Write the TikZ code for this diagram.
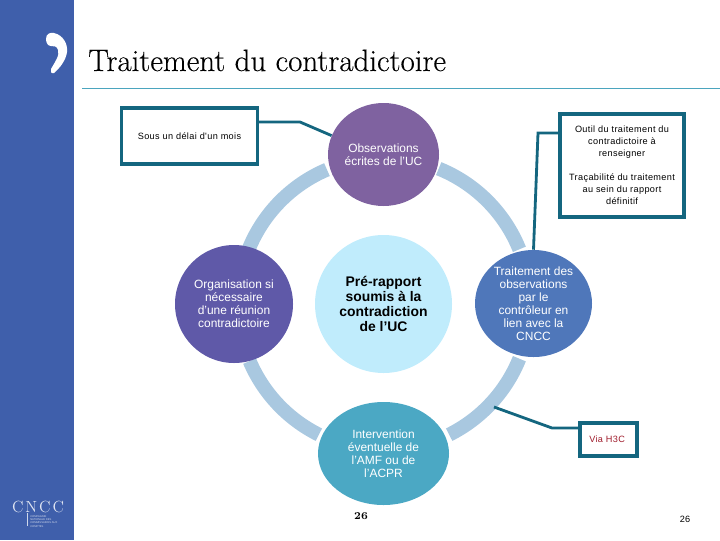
\documentclass[tikz,border=0pt]{standalone}
\usepackage{fontspec}
\setmainfont{Liberation Sans}
\newfontfamily\titlefont[FakeBold=0.25]{Latin Modern Roman}
\newfontfamily\logofont[LetterSpace=12]{Latin Modern Roman}
\newfontfamily\numfont{Latin Modern Roman}
\newfontfamily\spacedfont[LetterSpace=4]{Liberation Sans}
\usetikzlibrary{shapes.geometric, positioning, calc}
\definecolor{panelblue}{HTML}{3F5FAB}
\definecolor{rulecolor}{HTML}{4BA5BE}
\definecolor{ringblue}{HTML}{A9C8E0}
\definecolor{obscolor}{HTML}{7F62A0}
\definecolor{orgcolor}{HTML}{5F59A8}
\definecolor{precolor}{HTML}{C0ECFC}
\definecolor{trtcolor}{HTML}{4F77BA}
\definecolor{intcolor}{HTML}{4BA8C4}
\definecolor{boxline}{HTML}{14667F}
\definecolor{viared}{HTML}{A01C2C}
\newcommand{\px}{0.025cm}
\tikzset{
    stage/.style={ellipse, draw=none, inner sep=-12pt, align=center, text=white,
        font=\fontsize{8.5}{9.25}\selectfont},
    notebox/.style={rectangle, draw=boxline, line width=2.2pt, fill=white, inner sep=0pt, align=center,
        font=\spacedfont\fontsize{6.5}{8.6}\selectfont},
    notelink/.style={draw=boxline, line width=2pt},
    ringarc/.style={draw=ringblue, line width=14*\px}
}

\begin{document}
\begin{tikzpicture}[x=\px, y=-\px]
    \useasboundingbox (0,0) rectangle (720,540);

    % Side panel
    \fill[panelblue] (0,0) rectangle (74,540);
    \fill[white] (46,39) .. controls (46,34) and (50,32) .. (54,33)
        .. controls (63,35) and (68,44) .. (67,52)
        .. controls (66,60) and (60,68) .. (54,73)
        .. controls (51,74) and (50,71) .. (51,69)
        .. controls (55,62) and (60,55) .. (58,50)
        .. controls (57,46) and (54,46) .. (51,46)
        .. controls (48,46) and (46,43) .. (46,39) -- cycle;

    % Logo
    \node[text=white!85!panelblue, font=\logofont\fontsize{11.5}{11.5}\selectfont, inner sep=0pt, anchor=base] (logo) at (38,512) {CNCC};
    \node[text=white!75!panelblue, anchor=north west, inner sep=0pt, align=left,
        font=\fontsize{1.9}{2.4}\selectfont] (logotext) at (30,515) {COMPAGNIE\\NATIONALE DES\\COMMISSAIRES AUX\\COMPTES};
    \draw[white!75!panelblue, line width=0.3pt] (logotext.north west) ++(-2.5,-2) -- ++(0,13);

    % Title
    \node[anchor=base west, inner sep=0pt, font=\titlefont\fontsize{22}{22}\selectfont] (title) at (88,71) {Traitement du contradictoire};
    \draw[rulecolor, line width=0.7pt] (82,88.5) -- (720,88.5);

    % Ring between the stages
    \coordinate (ringc) at (384,304);
    \foreach \a/\b in {22/68, 113/158, 203/243.5, 296.5/338} {
        \draw[ringarc] ($(ringc)+(\a:146*\px)$) arc[start angle=\a, end angle=\b, radius=146*\px];
    }

    % Stages
    \node[stage, fill=obscolor, minimum width=111*\px, minimum height=103*\px] (obsnode) at (383.5,154.5) {Observations\\écrites de l'UC};
    \node[stage, fill=orgcolor, minimum width=118*\px, minimum height=118*\px] (orgnode) at (234,304) {Organisation si\\nécessaire\\d'une réunion\\contradictoire};
    \node[stage, fill=precolor, text=black, minimum width=137*\px, minimum height=138*\px,
        font=\bfseries\fontsize{9.9}{10.7}\selectfont] (prenode) at (383.5,304) {Pré-rapport\\soumis à la\\contradiction\\de l’UC};
    \node[stage, fill=trtcolor, minimum width=117*\px, minimum height=107*\px] (trtnode) at (533.5,303.5) {Traitement des\\observations\\par le\\contrôleur en\\lien avec la\\CNCC};
    \node[stage, fill=intcolor, minimum width=131*\px, minimum height=103*\px] (intnode) at (383.5,453.5) {Intervention\\éventuelle de\\l'AMF ou de\\l'ACPR};

    % Note boxes
    \node[notebox, minimum width=136*\px, minimum height=56*\px] (delaibox) at (189.5,136) {Sous un délai d'un mois};
    \node[notebox, minimum width=124*\px, minimum height=103*\px] (outilbox) at (622,165.5) {Outil du traitement du\\contradictoire à\\renseigner\\[8.2pt]Traçabilité du traitement\\au sein du rapport\\définitif};
    \node[notebox, minimum width=57*\px, minimum height=33*\px, text=viared] (viabox) at (608.5,439.5) {\hspace*{-2pt}Via H3C};

    % Links
    \coordinate (delaibend) at (300,122);
    \coordinate (outilbend) at (538,133);
    \coordinate (viabend) at (552,428);
    \coordinate (viaend) at (494,407);
    \draw[notelink] (delaibox.east |- delaibend) -- (delaibend) -- (obsnode.160);
    \draw[notelink] (outilbox.west |- outilbend) -- (outilbend) -- (trtnode.north);
    \draw[notelink] (viabox.west |- viabend) -- (viabend) -- (viaend);

    % Page numbers
    \node[font=\numfont\bfseries\fontsize{7.5}{8}\selectfont, inner sep=0pt] (pagea) at (361,516) {26};
    \node[font=\fontsize{6.5}{8}\selectfont, inner sep=0pt] (pageb) at (685,519) {26};
\end{tikzpicture}
\end{document}
